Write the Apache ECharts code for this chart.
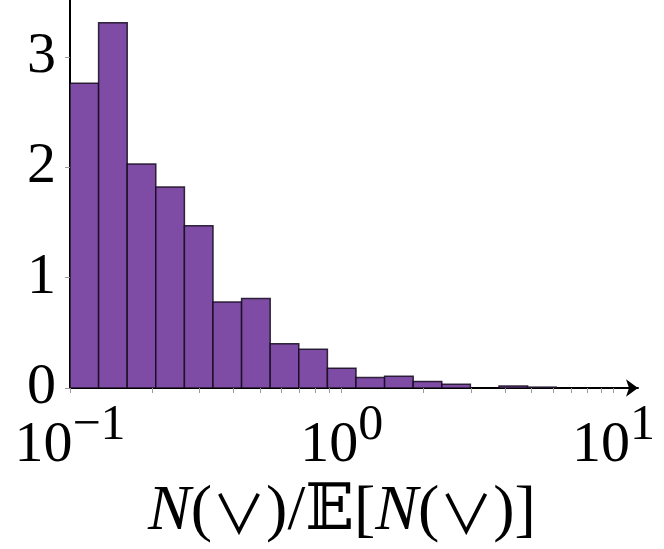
<!DOCTYPE html>
<html>
<head>
<meta charset="utf-8">
<script src="https://cdn.jsdelivr.net/npm/echarts@6/dist/echarts.min.js"></script>
<style>
  html, body { margin: 0; padding: 0; background: #fff; }
  #chart { width: 664px; height: 549px; }
</style>
</head>
<body>
<div id="chart"></div>
<script>
// bin edges (log spaced, 0.1 .. 10)
const binEdges = [0.1, 0.12743, 0.16238, 0.20691, 0.26367, 0.33598, 0.42813, 0.54556,
  0.69519, 0.88587, 1.12884, 1.43845, 1.83298, 2.33572, 2.97635, 3.79269, 4.83293,
  6.15848, 7.84760, 10]
// density per bin
const density = [2.76, 3.31, 2.03, 1.82, 1.47, 0.78, 0.81, 0.40, 0.35, 0.18,
  0.094, 0.106, 0.06, 0.033, 0, 0.018, 0.008, 0, 0]
const xMajorTicks = [0.1, 1, 10]
const xMinorTicks = [0.1, 0.2, 0.3, 0.4, 0.5, 0.6, 0.7, 0.8, 0.9,
  1, 2, 3, 4, 5, 6, 7, 8, 9, 10]
const yTicks = [0, 1, 2, 3]

const font = "'Liberation Serif', 'DejaVu Serif', serif"
const symFont = "'Noto Sans CJK JP', 'DejaVu Sans', sans-serif"

const chart = echarts.init(document.getElementById('chart'), null, { renderer: 'canvas' })

const bins = density.map((v, i) => [binEdges[i], binEdges[i + 1], v])

const option = {
  animation: false,
  grid: { left: 70, right: 26, top: 0, bottom: 161 },
  xAxis: {
    type: 'log',
    logBase: 10,
    min: 0.1,
    max: 12.32,
    name: '{i|N}{r|(}{v|∨}{r|)/𝔼[}{i|N}{r|(}{v|∨}{r|)]}',
    nameLocation: 'middle',
    nameGap: 79,
    nameTextStyle: {
      padding: [0, 24, 0, 0],
      rich: {
        i: { fontFamily: font, fontSize: 64, fontStyle: 'italic', color: '#000', verticalAlign: 'bottom' },
        r: { fontFamily: font, fontSize: 64, color: '#000', verticalAlign: 'bottom' },
        v: { fontFamily: symFont, fontSize: 54, fontWeight: 'normal', color: '#000', verticalAlign: 'bottom', padding: [0, 0, 3, 0] }
      }
    },
    axisLine: {
      show: true,
      lineStyle: { color: '#000', width: 2 },
      symbol: ['none', 'arrow'],
      symbolSize: [13, 12]
    },
    axisTick: {
      show: true,
      customValues: xMinorTicks,
      length: 5,
      lineStyle: { color: '#999', width: 1 }
    },
    axisLabel: {
      customValues: xMajorTicks,
      margin: 13,
      formatter: (v) => {
        const e = Math.round(Math.log10(v))
        return '{b|10}{s|' + (e < 0 ? '−' + (-e) : e) + '}'
      },
      rich: {
        b: { fontFamily: font, fontSize: 58, color: '#000', verticalAlign: 'bottom' },
        s: { fontFamily: font, fontSize: 50, color: '#000', verticalAlign: 'bottom', padding: [0, 0, 24, 0] }
      }
    },
    splitLine: { show: false },
    minorSplitLine: { show: false }
  },
  yAxis: {
    type: 'value',
    min: 0,
    max: 3.515,
    interval: 1,
    axisLine: { show: true, lineStyle: { color: '#000', width: 2 } },
    axisTick: {
      show: true,
      customValues: yTicks,
      length: 5,
      lineStyle: { color: '#999', width: 1 }
    },
    axisLabel: {
      customValues: yTicks,
      margin: 14,
      fontFamily: font,
      fontSize: 58,
      color: '#000'
    },
    splitLine: { show: false }
  },
  series: [
    {
      type: 'custom',
      data: bins,
      clip: true,
      renderItem: (params, api) => {
        const lo = api.value(0)
        const hi = api.value(1)
        const v = api.value(2)
        if (!v) return null
        const p0 = api.coord([lo, 0])
        const p1 = api.coord([hi, v])
        return {
          type: 'rect',
          shape: { x: p0[0], y: p1[1], width: p1[0] - p0[0], height: p0[1] - p1[1] },
          style: { fill: '#7f4ca5', stroke: 'rgba(20, 10, 30, 0.85)', lineWidth: 1.5 }
        }
      }
    }
  ]
}

chart.setOption(option)
</script>
</body>
</html>
